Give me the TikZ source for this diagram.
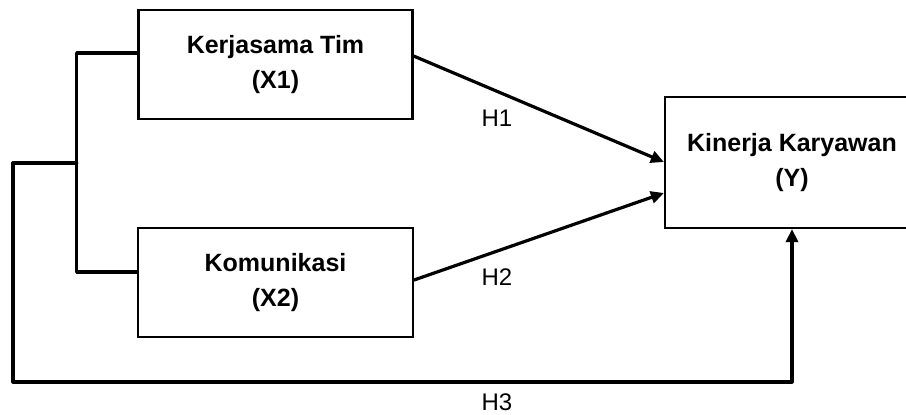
\documentclass[tikz,border=0pt]{standalone}
\usepackage{fontspec}
\setmainfont{Liberation Sans}
\usetikzlibrary{arrows.meta}
\begin{document}
\begin{tikzpicture}[x=1pt,y=-1pt,
  box/.style={draw,line width=2.2pt,rectangle,align=center,font=\fontsize{25}{35}\selectfont\bfseries,inner sep=0pt},
  conn/.style={line width=3.2pt,line cap=round,line join=round},
  arr/.style={conn,-{Triangle[length=13pt,width=12pt]}},
  lab/.style={font=\fontsize{24}{28}\selectfont}]
\useasboundingbox (0,0) rectangle (906,415);
\node[box,minimum width=274pt,minimum height=109pt] (x1) at (275.5,64.5) {Kerjasama Tim\\(X1)};
\node[box,minimum width=275pt,minimum height=109pt] (x2) at (275.5,282.5) {Komunikasi\\(X2)};
\node[box,minimum width=254pt,minimum height=131pt] (y) at (792,162.5) {Kinerja Karyawan\\(Y)};
\coordinate (j1) at (76.7,53);
\coordinate (j2) at (76.7,272);
\coordinate (j3) at (76.7,163);
\coordinate (c1) at (13,163);
\coordinate (c2) at (13,382);
\coordinate (c3) at (792,382);
\coordinate (a1) at (412,56);
\coordinate (b1) at (665,162);
\coordinate (a2) at (412,280);
\coordinate (b2) at (665,193);
\draw[conn] (j1 -| x1.west) -- (j1) -- (j2) -- (j2 -| x2.west);
\draw[arr] (j3) -- (c1) -- (c2) -- (c3) -- (c3 |- y.south);
\draw[arr] (a1 -| x1.east) -- (b1 -| y.west);
\draw[arr] (a2 -| x2.east) -- (b2 -| y.west);
\node[lab] (h1) at (497,118) {H1};
\node[lab] (h2) at (497,277) {H2};
\node[lab] (h3) at (497,402) {H3};
\end{tikzpicture}
\end{document}
